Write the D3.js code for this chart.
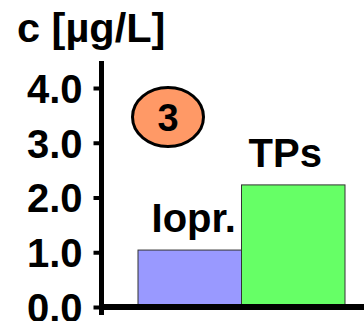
<!DOCTYPE html>
<html><head><meta charset="utf-8">
<script src="https://cdn.jsdelivr.net/npm/d3@7"></script>
<style>body{margin:0;background:#fff}svg{display:block}text{font-family:"Liberation Sans",Arial,sans-serif;font-weight:bold;fill:#000}</style>
</head><body>
<script>
const categories = ["Iopr.", "TPs"];
const values = [1.04, 2.23];
const barColors = ["#9999ff", "#66ff66"];
const tickValues = [0, 1, 2, 3, 4];
const tickLabels = ["0.0", "1.0", "2.0", "3.0", "4.0"];
const yTitle = "c [µg/L]";
const badge = "3";

const W = 364, H = 321;
const svg = d3.select("body").append("svg").attr("width", W).attr("height", H);

const y = d3.scaleLinear().domain([0, 4]).range([307, 88]);
const x = d3.scaleBand().domain(categories).range([138, 345]).paddingInner(0).paddingOuter(0);

// bars
svg.selectAll("rect.bar").data(categories).enter().append("rect")
  .attr("class", "bar")
  .attr("x", d => x(d))
  .attr("width", x.bandwidth())
  .attr("y", (d, i) => y(values[i]))
  .attr("height", (d, i) => y(0) - y(values[i]))
  .attr("fill", (d, i) => barColors[i])
  .attr("stroke", "#333")
  .attr("stroke-width", 1);

// bar labels
const labelDx = {"Iopr.": 4, "TPs": -8};
svg.selectAll("text.lab").data(categories).enter().append("text")
  .attr("class", "lab")
  .attr("x", d => x(d) + x.bandwidth() / 2 + labelDx[d])
  .attr("y", (d, i) => y(values[i]) - 18)
  .attr("text-anchor", "middle")
  .attr("font-size", 40)
  .text(d => d);

// y axis
const yAxis = d3.axisLeft(y).tickValues(tickValues).tickFormat((d, i) => tickLabels[i]).tickSize(8).tickPadding(11);
const gy = svg.append("g").attr("transform", "translate(101.5,0)").call(yAxis);
gy.select(".domain").remove();
gy.selectAll(".tick line").attr("stroke", "#000").attr("stroke-width", 4);
gy.selectAll(".tick text").attr("font-size", 40).attr("font-family", '"Liberation Sans",Arial,sans-serif').attr("font-weight", "bold").attr("fill", "#000").attr("dy", "0.36em");
svg.append("line").attr("x1", 101.5).attr("x2", 101.5).attr("y1", 61).attr("y2", 315)
  .attr("stroke", "#000").attr("stroke-width", 5);

// x axis line
svg.append("line").attr("x1", 99).attr("x2", 364).attr("y1", y(0)).attr("y2", y(0))
  .attr("stroke", "#000").attr("stroke-width", 6);

// title
svg.append("text").attr("x", 17).attr("y", 42).attr("font-size", 41.5).text(yTitle);

// badge
svg.append("ellipse").attr("cx", 168).attr("cy", 117).attr("rx", 35.5).attr("ry", 29.5)
  .attr("fill", "#ff9966").attr("stroke", "#000").attr("stroke-width", 3);
svg.append("text").attr("x", 168).attr("y", 117).attr("dy", "0.36em").attr("text-anchor", "middle")
  .attr("font-size", 38).text(badge);
</script>
</body></html>
